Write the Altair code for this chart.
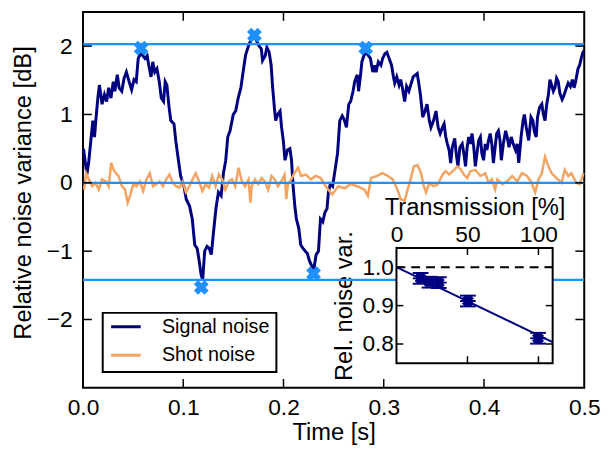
import altair as alt
import pandas as pd

# ---------------- data ----------------
signal_points = [
    (0.0005, 0.50), (0.0039, 0.12), (0.0059, 0.33), (0.0082, 0.67), (0.0098, 0.91), (0.0115, 0.67),
    (0.0131, 0.96), (0.0148, 1.24), (0.0164, 1.43), (0.0190, 1.15), (0.0214, 1.29), (0.0236, 1.19),
    (0.0256, 1.39), (0.0279, 1.24), (0.0302, 1.48), (0.0318, 1.34), (0.0342, 1.58), (0.0361, 1.39),
    (0.0387, 1.34), (0.0410, 1.53), (0.0433, 1.62), (0.0460, 1.48), (0.0485, 1.36), (0.0509, 1.51),
    (0.0531, 1.48), (0.0551, 1.82), (0.0574, 1.89), (0.0597, 1.86), (0.0617, 1.82), (0.0640, 1.86),
    (0.0656, 1.72), (0.0679, 1.55), (0.0696, 1.77), (0.0716, 1.62), (0.0738, 1.67), (0.0761, 1.48),
    (0.0781, 1.24), (0.0804, 1.19), (0.0820, 1.48), (0.0837, 1.43), (0.0859, 1.10), (0.0876, 0.91),
    (0.0908, 0.86), (0.0925, 0.62), (0.0952, 0.33), (0.0974, 0.10), (0.1007, -0.05), (0.1030, -0.24),
    (0.1063, -0.34), (0.1090, -0.53), (0.1115, -0.91), (0.1139, -0.96), (0.1155, -1.10), (0.1178, -1.34),
    (0.1194, -1.42), (0.1214, -1.00), (0.1237, -0.93), (0.1260, -0.96), (0.1280, -1.05), (0.1302, -0.72),
    (0.1326, -0.38), (0.1351, -0.14), (0.1378, -0.19), (0.1401, 0.14), (0.1424, 0.33), (0.1444, 0.67),
    (0.1467, 0.76), (0.1499, 1.00), (0.1523, 1.05), (0.1548, 1.24), (0.1575, 1.39), (0.1597, 1.62),
    (0.1621, 1.86), (0.1641, 1.96), (0.1663, 2.05), (0.1700, 2.13), (0.1719, 2.12), (0.1752, 2.01),
    (0.1779, 1.96), (0.1791, 1.79), (0.1818, 1.86), (0.1834, 1.98), (0.1857, 1.91), (0.1877, 1.72),
    (0.1890, 1.43), (0.1909, 1.10), (0.1922, 0.91), (0.1942, 1.00), (0.1966, 1.05), (0.1981, 0.81),
    (0.1998, 0.62), (0.2015, 0.33), (0.2040, 0.48), (0.2064, 0.50), (0.2080, 0.33), (0.2096, -0.05),
    (0.2113, -0.34), (0.2129, -0.53), (0.2153, -0.67), (0.2172, -0.91), (0.2195, -0.96), (0.2218, -1.00),
    (0.2237, -1.03), (0.2261, -1.15), (0.2283, -1.22), (0.2303, -1.26), (0.2326, -1.05), (0.2349, -1.00),
    (0.2369, -0.53), (0.2392, -0.57), (0.2414, -0.43), (0.2434, -0.38), (0.2448, -0.14), (0.2467, -0.02),
    (0.2490, -0.05), (0.2520, 0.24), (0.2539, 0.43), (0.2562, 0.91), (0.2586, 0.98), (0.2605, 0.93),
    (0.2628, 0.81), (0.2651, 1.15), (0.2670, 1.19), (0.2694, 1.34), (0.2710, 1.48), (0.2736, 1.58),
    (0.2749, 1.34), (0.2769, 1.58), (0.2782, 1.77), (0.2802, 1.86), (0.2825, 1.91), (0.2847, 1.86),
    (0.2867, 1.82), (0.2891, 1.62), (0.2906, 1.72), (0.2923, 1.62), (0.2946, 1.77), (0.2972, 1.72),
    (0.2989, 1.82), (0.3012, 1.89), (0.3031, 1.91), (0.3054, 1.82), (0.3078, 1.72), (0.3097, 1.55),
    (0.3110, 1.46), (0.3130, 1.55), (0.3153, 1.43), (0.3169, 1.51), (0.3186, 1.39), (0.3209, 1.19),
    (0.3228, 1.41), (0.3251, 1.34), (0.3275, 1.46), (0.3294, 1.55), (0.3317, 1.58), (0.3334, 1.60),
    (0.3349, 1.46), (0.3366, 1.29), (0.3389, 0.96), (0.3412, 1.05), (0.3432, 1.15), (0.3455, 0.91),
    (0.3471, 0.81), (0.3497, 0.91), (0.3521, 1.05), (0.3543, 0.81), (0.3563, 0.72), (0.3586, 0.81),
    (0.3602, 0.86), (0.3619, 0.67), (0.3635, 0.57), (0.3652, 0.48), (0.3668, 0.29), (0.3684, 0.52),
    (0.3708, 0.65), (0.3723, 0.43), (0.3740, 0.24), (0.3760, 0.52), (0.3783, 0.57), (0.3799, 0.43),
    (0.3816, 0.24), (0.3832, 0.52), (0.3848, 0.67), (0.3865, 0.57), (0.3881, 0.72), (0.3898, 0.52),
    (0.3914, 0.24), (0.3930, 0.43), (0.3947, 0.62), (0.3964, 0.67), (0.3979, 0.43), (0.3996, 0.33),
    (0.4013, 0.57), (0.4029, 0.48), (0.4045, 0.62), (0.4062, 0.72), (0.4078, 0.57), (0.4094, 0.29),
    (0.4111, 0.52), (0.4127, 0.72), (0.4144, 0.76), (0.4160, 0.62), (0.4173, 0.33), (0.4193, 0.57),
    (0.4216, 0.76), (0.4232, 0.67), (0.4249, 0.52), (0.4272, 0.67), (0.4291, 0.57), (0.4314, 0.48),
    (0.4331, 0.57), (0.4347, 0.29), (0.4370, 0.67), (0.4390, 0.91), (0.4403, 1.00), (0.4422, 0.81),
    (0.4446, 0.62), (0.4469, 0.96), (0.4488, 0.91), (0.4501, 0.76), (0.4521, 0.67), (0.4534, 0.96),
    (0.4554, 1.10), (0.4577, 1.15), (0.4593, 1.00), (0.4609, 0.91), (0.4626, 1.15), (0.4643, 1.29),
    (0.4658, 1.51), (0.4675, 1.43), (0.4692, 1.34), (0.4708, 1.39), (0.4724, 1.53), (0.4741, 1.48),
    (0.4757, 1.31), (0.4780, 1.22), (0.4796, 1.27), (0.4816, 1.36), (0.4840, 1.46), (0.4862, 1.41),
    (0.4882, 1.51), (0.4899, 1.39), (0.4914, 1.48), (0.4938, 1.67), (0.4954, 1.72), (0.4970, 1.82),
    (0.4987, 1.91), (0.5000, 1.94),
]

shot_points = [
    (0.0010, -0.10), (0.0032, 0.14), (0.0059, 0.05), (0.0092, -0.05), (0.0125, 0.00), (0.0157, -0.10),
    (0.0190, 0.05), (0.0229, 0.02), (0.0256, -0.05), (0.0282, 0.29), (0.0305, 0.19), (0.0328, 0.14),
    (0.0354, 0.10), (0.0387, -0.05), (0.0420, -0.10), (0.0446, -0.29), (0.0469, -0.19), (0.0502, -0.02),
    (0.0534, -0.05), (0.0568, 0.02), (0.0600, -0.12), (0.0633, 0.05), (0.0666, 0.14), (0.0699, -0.05),
    (0.0731, -0.02), (0.0765, 0.02), (0.0797, -0.05), (0.0830, 0.05), (0.0863, 0.12), (0.0896, 0.00),
    (0.0928, -0.05), (0.0962, -0.07), (0.0994, 0.02), (0.1027, -0.14), (0.1060, -0.05), (0.1093, 0.05),
    (0.1125, 0.14), (0.1158, 0.02), (0.1191, -0.12), (0.1223, -0.02), (0.1257, -0.07), (0.1289, 0.10),
    (0.1322, -0.05), (0.1355, 0.12), (0.1388, 0.05), (0.1420, -0.10), (0.1454, 0.02), (0.1486, 0.05),
    (0.1519, -0.05), (0.1552, 0.22), (0.1585, 0.02), (0.1617, -0.05), (0.1651, 0.05), (0.1670, -0.29),
    (0.1683, -0.05), (0.1716, 0.05), (0.1749, -0.02), (0.1781, 0.07), (0.1814, 0.02), (0.1847, -0.10),
    (0.1880, 0.10), (0.1912, 0.05), (0.1946, -0.05), (0.1978, 0.02), (0.2011, 0.12), (0.2028, -0.24),
    (0.2044, -0.02), (0.2077, 0.05), (0.2109, 0.14), (0.2146, 0.22), (0.2175, 0.10), (0.2224, 0.12),
    (0.2274, 0.05), (0.2323, 0.10), (0.2372, 0.07), (0.2421, -0.05), (0.2487, -0.17), (0.2546, -0.05),
    (0.2608, -0.08), (0.2667, -0.02), (0.2736, -0.05), (0.2808, -0.10), (0.2842, -0.19), (0.2874, 0.07),
    (0.2933, 0.10), (0.2989, 0.14), (0.3041, 0.10), (0.3091, 0.05), (0.3137, -0.10), (0.3169, -0.24),
    (0.3209, -0.26), (0.3238, -0.10), (0.3268, 0.05), (0.3300, 0.24), (0.3337, 0.26), (0.3373, 0.14),
    (0.3399, -0.05), (0.3422, -0.14), (0.3455, 0.00), (0.3494, -0.05), (0.3536, -0.03), (0.3586, 0.12),
    (0.3619, 0.17), (0.3652, 0.12), (0.3701, 0.19), (0.3733, 0.24), (0.3766, 0.20), (0.3799, 0.12),
    (0.3832, 0.07), (0.3865, 0.17), (0.3914, 0.19), (0.3964, 0.10), (0.4013, 0.14), (0.4045, 0.00),
    (0.4078, 0.05), (0.4111, -0.10), (0.4134, 0.05), (0.4183, -0.02), (0.4232, 0.02), (0.4281, 0.10),
    (0.4331, 0.02), (0.4380, 0.14), (0.4429, 0.10), (0.4469, 0.02), (0.4511, -0.14), (0.4544, 0.05),
    (0.4577, 0.14), (0.4609, 0.38), (0.4643, 0.24), (0.4675, 0.14), (0.4724, 0.07), (0.4774, 0.00),
    (0.4806, 0.19), (0.4840, 0.10), (0.4872, 0.14), (0.4921, 0.00), (0.4954, -0.02), (0.4993, 0.14),
]

marker_t = [0.058, 0.171, 0.282, 0.118, 0.230]
marker_v = [1.97, 2.16, 1.97, -1.53, -1.33]
level_v = [2.03, 0.0, -1.42]
series_names = ["Signal noise", "Shot noise"]
series_colors = ["#000080", "#F4A460"]
x_tick_values = [0.0, 0.1, 0.2, 0.3, 0.4, 0.5]
x_inner_ticks = [0.1, 0.2, 0.3, 0.4]
y_tick_values = [-2, -1, 0, 1, 2]

# inset
inset_T = [17.0, 23.3, 29.8, 50.3, 99.7]
inset_R = [0.971, 0.961, 0.960, 0.912, 0.815]
inset_dT = [5.5, 5.5, 5.5, 5.5, 5.5]
inset_dR = [0.014, 0.014, 0.014, 0.014, 0.014]
fit_T = [0, 110]
fit_R = [1.0, 0.805]
ref_R = [1.0]
inset_x_ticks = [0, 50, 100]
inset_x_inner = [50, 100]
inset_y_ticks = [0.8, 0.9, 1.0]

# ---------------- layout ----------------
W, H = 508, 381
IX0, IX1, IY0, IY1 = 317.7, 476.0, 239.3, 356.0
TK = 9
FONT = "Liberation Sans"
BLUE = "#1E90FF"
NAVY = "#000080"
LBL = 23
TTL = 24

xs = alt.Scale(domain=[0, 0.5], nice=False, zero=False)
ys = alt.Scale(domain=[-3, 2.5], nice=False, zero=False)
ixs = alt.Scale(domain=[0, 110], range=[IX0, IX1], nice=False, zero=False)
iys = alt.Scale(domain=[0.75, 1.05], range=[IY1, IY0], nice=False, zero=False)
cs = alt.Scale(domain=series_names, range=series_colors)

sig_df = pd.DataFrame(signal_points, columns=["t", "v"]).assign(series="Signal noise")
shot_df = pd.DataFrame(shot_points, columns=["t", "v"]).assign(series="Shot noise")

legend = alt.Legend(
    orient="none", legendX=20, legendY=305, title=None, labelFontSize=20, labelFont=FONT,
    symbolType="stroke", symbolSize=900, symbolStrokeWidth=3, strokeColor="black",
    fillColor="white", padding=7, rowPadding=9, clipHeight=14, labelOffset=20,
)

signal = alt.Chart(sig_df).mark_line(strokeWidth=3).encode(
    x=alt.X("t:Q", scale=xs, axis=alt.Axis(
        values=x_tick_values, format=".1f", title="Time [s]", ticks=False,
        domain=False, labelPadding=9, labelFlush=False, labelOverlap=False,
        labelFontSize=LBL, titleFontSize=TTL, titleY=33, titleBaseline="top")),
    y=alt.Y("v:Q", scale=ys, axis=alt.Axis(
        values=y_tick_values, format="d", title="Relative noise variance [dB]", ticks=False,
        domain=False, labelPadding=11, labelOverlap=False, labelFontSize=LBL,
        titleFontSize=TTL, titleX=-60, titleY=183, titleBaseline="middle")),
    color=alt.Color("series:N", scale=cs, legend=legend),
)
shot = alt.Chart(shot_df).mark_line(strokeWidth=2.5).encode(
    x=alt.X("t:Q", scale=xs, axis=None),
    y=alt.Y("v:Q", scale=ys, axis=None),
    color=alt.Color("series:N", scale=cs, legend=legend),
)
levels = alt.Chart(pd.DataFrame({"v": level_v})).mark_rule(color=BLUE, strokeWidth=2.2).encode(
    y=alt.Y("v:Q", scale=ys, axis=None)
)
markers = alt.Chart(pd.DataFrame({"t": marker_t, "v": marker_v})).mark_point(
    shape="cross", angle=45, filled=True, size=230, color=BLUE, opacity=1
).encode(x=alt.X("t:Q", scale=xs, axis=None), y=alt.Y("v:Q", scale=ys, axis=None))

xt_df = pd.DataFrame({"t": x_inner_ticks})
yt_df = pd.DataFrame({"v": y_tick_values})
tick_style = dict(color="black", strokeWidth=1.5)
ticks_bottom = alt.Chart(xt_df).mark_rule(**tick_style).encode(
    x=alt.X("t:Q", scale=xs, axis=None), y=alt.value(H), y2=alt.value(H - TK))
ticks_top = alt.Chart(xt_df).mark_rule(**tick_style).encode(
    x=alt.X("t:Q", scale=xs, axis=None), y=alt.value(0), y2=alt.value(TK))
ticks_left = alt.Chart(yt_df).mark_rule(**tick_style).encode(
    y=alt.Y("v:Q", scale=ys, axis=None), x=alt.value(0), x2=alt.value(TK))
ticks_right = alt.Chart(yt_df).mark_rule(**tick_style).encode(
    y=alt.Y("v:Q", scale=ys, axis=None), x=alt.value(W), x2=alt.value(W - TK))

# ---------------- inset ----------------
pts = pd.DataFrame({"T": inset_T, "R": inset_R, "dT": inset_dT, "dR": inset_dR})
pts["Tlo"] = pts["T"] - pts["dT"]
pts["Thi"] = pts["T"] + pts["dT"]
pts["Rlo"] = pts["R"] - pts["dR"]
pts["Rhi"] = pts["R"] + pts["dR"]

frame = alt.Chart(pd.DataFrame({"k": [0]})).mark_rect(
    fill="white", stroke="black", strokeWidth=2
).encode(x=alt.value(IX0), x2=alt.value(IX1), y=alt.value(IY0), y2=alt.value(IY1))

ref_line = alt.Chart(pd.DataFrame({"R": ref_R})).mark_rule(
    color="black", strokeWidth=2, strokeDash=[9, 6]
).encode(y=alt.Y("R:Q", scale=iys, axis=None), x=alt.value(IX0), x2=alt.value(IX1))

fit = alt.Chart(pd.DataFrame({"T": fit_T, "R": fit_R})).mark_line(color=NAVY, strokeWidth=2).encode(
    x=alt.X("T:Q", scale=ixs, axis=alt.Axis(
        orient="top", offset=-IY0, values=inset_x_ticks, format="d", ticks=False,
        domain=False, labelPadding=7, labelBaseline="alphabetic", labelFlush=False,
        labelOverlap=False, labelFontSize=LBL, title="Transmission [%]", titleFontSize=TTL,
        titleX=(IX0 + IX1) / 2, titleY=-34, titleBaseline="alphabetic")),
    y=alt.Y("R:Q", scale=iys, axis=alt.Axis(
        orient="left", offset=-IX0, values=inset_y_ticks, format=".1f", ticks=False,
        domain=False, labelPadding=3, labelOverlap=False, labelFontSize=LBL,
        title="Rel. noise var.", titleFontSize=TTL, titleX=-53, titleY=(IY0 + IY1) / 2,
        titleBaseline="middle")),
)

err_h = alt.Chart(pts).mark_rule(color=NAVY, strokeWidth=2).encode(
    x=alt.X("Tlo:Q", scale=ixs, axis=None), x2="Thi:Q", y=alt.Y("R:Q", scale=iys, axis=None))
err_v = alt.Chart(pts).mark_rule(color=NAVY, strokeWidth=2).encode(
    x=alt.X("T:Q", scale=ixs, axis=None), y=alt.Y("Rlo:Q", scale=iys, axis=None), y2="Rhi:Q")
cap_b = alt.Chart(pts).mark_tick(color=NAVY, thickness=2, size=16, orient="horizontal", opacity=1).encode(
    x=alt.X("T:Q", scale=ixs, axis=None), y=alt.Y("Rlo:Q", scale=iys, axis=None))
cap_t = alt.Chart(pts).mark_tick(color=NAVY, thickness=2, size=16, orient="horizontal", opacity=1).encode(
    x=alt.X("T:Q", scale=ixs, axis=None), y=alt.Y("Rhi:Q", scale=iys, axis=None))
inset_pts = alt.Chart(pts).mark_point(
    shape="cross", angle=45, filled=True, size=150, color=NAVY, opacity=1
).encode(x=alt.X("T:Q", scale=ixs, axis=None), y=alt.Y("R:Q", scale=iys, axis=None))

ixt_df = pd.DataFrame({"T": inset_x_inner})
iyt_df = pd.DataFrame({"R": inset_y_ticks})
iticks_top = alt.Chart(ixt_df).mark_rule(**tick_style).encode(
    x=alt.X("T:Q", scale=ixs, axis=None), y=alt.value(IY0), y2=alt.value(IY0 + 7))
iticks_bottom = alt.Chart(ixt_df).mark_rule(**tick_style).encode(
    x=alt.X("T:Q", scale=ixs, axis=None), y=alt.value(IY1), y2=alt.value(IY1 - 7))
iticks_left = alt.Chart(iyt_df).mark_rule(**tick_style).encode(
    y=alt.Y("R:Q", scale=iys, axis=None), x=alt.value(IX0), x2=alt.value(IX0 + 7))
iticks_right = alt.Chart(iyt_df).mark_rule(**tick_style).encode(
    y=alt.Y("R:Q", scale=iys, axis=None), x=alt.value(IX1), x2=alt.value(IX1 - 7))

chart = alt.layer(
    signal, shot, levels, markers, ticks_bottom, ticks_top, ticks_left, ticks_right,
    frame, ref_line, fit, err_h, err_v, cap_b, cap_t, inset_pts,
    iticks_top, iticks_bottom, iticks_left, iticks_right,
).resolve_scale(x="independent", y="independent").properties(
    width=W, height=H,
    autosize=alt.AutoSizeParams(type="none"),
    padding={"left": 76, "top": 1, "right": 17, "bottom": 60},
).configure(font=FONT).configure_view(
    stroke="black", strokeWidth=2
).configure_axis(
    grid=False, labelFont=FONT, titleFont=FONT, labelFontSize=LBL, titleFontSize=TTL,
    titleFontWeight="normal", labelColor="black", titleColor="black",
).configure_legend(strokeWidth=2)

chart.save("out.html", embed_options={"renderer": "svg", "actions": False})
